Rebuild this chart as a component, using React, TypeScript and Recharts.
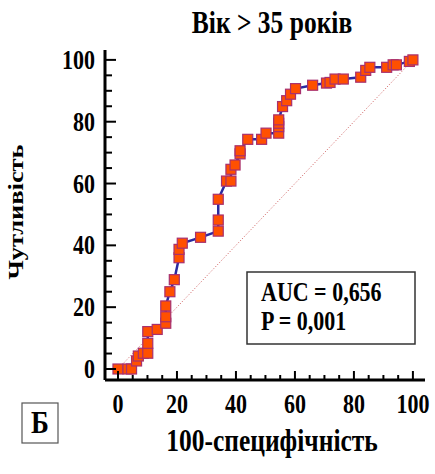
import React from "react";
import { LineChart, Line, XAxis, YAxis, Customized } from "recharts";

// 100 - specificity (%) and sensitivity (%)
const fpr = [
  0, 3.4, 4.6, 6.3, 6.9, 8.6, 10.1, 10.1, 10.1, 13.3, 16.2, 16.2, 16.2, 17.6, 19.1, 20.7, 20.7, 21.8, 28.0,
  34.0, 34.0, 34.0, 36.8, 38.3, 38.3, 39.7, 41.4, 41.4, 44.0, 48.7, 50.2, 54.5, 54.5, 54.5, 54.5, 55.8, 57.2,
  58.5, 60.2, 66.0, 70.7, 71.9, 73.6, 76.4, 82.3, 84.0, 85.4, 91.1, 93.3, 94.4, 98.8, 100,
];
const sens = [
  0, 0, 0, 2.6, 4.2, 5.1, 5.1, 8.3, 12.1, 12.8, 14.8, 16.9, 20.4, 25.0, 28.9, 36.0, 38.7, 40.7, 42.6,
  44.6, 48.2, 54.9, 60.8, 60.8, 64.6, 66.0, 69.6, 70.6, 74.3, 74.3, 76.3, 76.3, 78.4, 79.5, 80.6, 84.9, 86.8,
  88.9, 90.7, 91.8, 92.5, 92.7, 93.8, 93.8, 94.4, 96.6, 97.6, 97.6, 98.4, 98.4, 99.5, 100,
];
const diagX = [0, 100];
const diagY = [0, 100];
const ticks = [0, 5, 10, 15, 20, 25, 30, 35, 40, 45, 50, 55, 60, 65, 70, 75, 80, 85, 90, 95, 100];

const title = "Вік > 35 років";
const xTitle = "100-специфічність";
const yTitle = "Чутливість";
const panel = "Б";
const aucText = "AUC = 0,656";
const pText = "P = 0,001";

const rows = fpr.map((x, i) => ({ x, y: sens[i] }));
const diag = diagX.map((x, i) => ({ x, d: diagY[i] }));

const FONT = "'Liberation Serif', 'Times New Roman', serif";

function Txt({ x, y, size = 22, anchor = "middle", rotate = false, children }: any) {
  const tf = rotate
    ? `translate(${x},${y}) rotate(-90) scale(1.2,1)`
    : `translate(${x},${y}) scale(1,1.2)`;
  return (
    <text transform={tf} x={0} y={0} textAnchor={anchor} fontFamily={FONT} fontWeight="bold" fontSize={size} fill="#000">
      {children}
    </text>
  );
}

function XTick(props: any) {
  const { x, y, payload } = props;
  const major = payload.value % 20 === 0;
  return (
    <g>
      <line x1={x} x2={x} y1={y} y2={y - (major ? 9 : 5)} stroke="#000" strokeWidth={2} />
      {major && (
        <Txt x={x} y={y + 33}>
          {payload.value}
        </Txt>
      )}
    </g>
  );
}

function YTick(props: any) {
  const { x, y, payload } = props;
  const major = payload.value % 20 === 0;
  return (
    <g>
      <line x1={x} x2={x + (major ? 11 : 7)} y1={y} y2={y} stroke="#000" strokeWidth={2} />
      {major && (
        <Txt x={x - 10} y={y + 9} anchor="end">
          {payload.value}
        </Txt>
      )}
    </g>
  );
}

function Square(props: any) {
  const { cx, cy, index } = props;
  if (cx == null || cy == null) return <g key={index} />;
  return <rect key={index} x={cx - 5} y={cy - 5} width={10} height={10} fill="#ff5000" stroke="#a8306e" strokeWidth={1.2} />;
}

function Notes() {
  return (
    <g>
      <Txt x={272} y={33} size={25.5}>{title}</Txt>
      <Txt x={272} y={451} size={25.5}>{xTitle}</Txt>
      <Txt x={23} y={212} rotate>{yTitle}</Txt>
      <rect x={247} y={272} width={168} height={72} fill="#fff" stroke="#333" strokeWidth={1.5} />
      <Txt x={261} y={301} anchor="start">{aucText}</Txt>
      <Txt x={261} y={330} anchor="start">{pText}</Txt>
      <rect x={22} y={403} width={36} height={40} fill="#fff" stroke="#555" strokeWidth={1.2} />
      <Txt x={40} y={433} size={27}>{panel}</Txt>
    </g>
  );
}

export default function App() {
  return (
    <div style={{ position: "absolute", left: 0, top: 0, background: "#fff" }}>
      <LineChart width={435} height={474} data={rows} margin={{ top: 50, right: 10, bottom: 93, left: 104 }}>
        <XAxis
          dataKey="x"
          type="number"
          domain={[-4.4, 104.1]}
          ticks={ticks}
          allowDataOverflow
          height={1}
          tickSize={0}
          tickMargin={0}
          tickLine={false}
          tick={<XTick />}
          axisLine={{ stroke: "#000", strokeWidth: 3 }}
          interval={0}
        />
        <YAxis
          type="number"
          domain={[-3.56, 103.2]}
          ticks={ticks}
          allowDataOverflow
          width={1}
          tickSize={0}
          tickMargin={0}
          tickLine={false}
          tick={<YTick />}
          axisLine={{ stroke: "#000", strokeWidth: 3 }}
          interval={0}
        />
        <Line
          data={diag}
          dataKey="d"
          type="linear"
          stroke="#cc5555"
          strokeWidth={1}
          strokeDasharray="1 2"
          dot={false}
          activeDot={false}
          isAnimationActive={false}
        />
        <Line
          dataKey="y"
          type="linear"
          stroke="#2a2aa0"
          strokeWidth={2.5}
          dot={<Square />}
          activeDot={false}
          isAnimationActive={false}
        />
        <Customized component={<Notes />} />
      </LineChart>
    </div>
  );
}
